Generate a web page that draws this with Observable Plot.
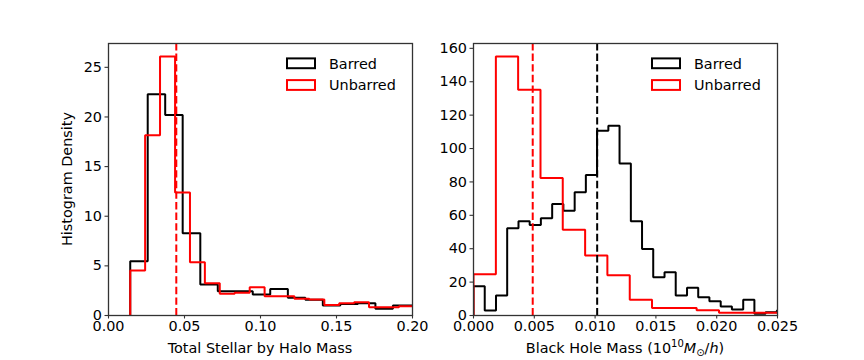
<!DOCTYPE html>
<html>
<head>
<meta charset="utf-8">
<script src="https://cdn.jsdelivr.net/npm/d3@7"></script>
<script src="https://cdn.jsdelivr.net/npm/@observablehq/plot@0.6"></script>
<style>
  html, body { margin: 0; padding: 0; background: #fff; }
  #wrap { display: flex; width: 864px; height: 360px; }
  svg { font-family: "DejaVu Sans", sans-serif; }
</style>
</head>
<body>
<div id="wrap"></div>
<script>
// ---------- Data ----------
// Left panel: Total Stellar by Halo Mass
const leftBarredEdges = [0.0143, 0.0258, 0.0373, 0.0488, 0.0604, 0.0719, 0.0834, 0.0949, 0.1064, 0.1180, 0.1295, 0.1410, 0.1525, 0.1641, 0.1756, 0.1871, 0.1986, 0.2101];
const leftBarredDensity = [5.47, 22.3, 20.2, 8.29, 3.12, 2.45, 2.45, 2.11, 2.68, 1.78, 1.58, 1.0, 1.17, 1.24, 0.67, 1.0, 1.0];
const leftUnbarredEdges = [0.0143, 0.0241, 0.0339, 0.0438, 0.0536, 0.0634, 0.0732, 0.0830, 0.0929, 0.1027, 0.1125, 0.1223, 0.1321, 0.1420, 0.1518, 0.1616, 0.1714, 0.1812, 0.1911, 0.2009];
const leftUnbarredDensity = [4.53, 18.15, 26.1, 12.4, 5.37, 3.26, 2.18, 2.28, 2.85, 1.95, 1.95, 1.68, 1.61, 1.07, 1.24, 1.34, 0.84, 0.84, 0.94];
const leftUnbarredMedian = 0.0446;

// Right panel: Black Hole Mass
const rightBarredEdges = [0, 0.000924, 0.00185, 0.00277, 0.00370, 0.00462, 0.00554, 0.00647, 0.00739, 0.00832, 0.00924, 0.01016, 0.01109, 0.01201, 0.01294, 0.01386, 0.01478, 0.01571, 0.01663, 0.01756, 0.01848, 0.01940, 0.02033, 0.02125, 0.02218, 0.02310, 0.02402, 0.02495, 0.02587];
const rightBarredDensity = [17.5, 3.0, 12.0, 52.2, 56.4, 54.2, 58.2, 66.8, 62.8, 73.8, 84.1, 110.7, 113.7, 91.1, 56.4, 39.9, 22.9, 25.9, 12.0, 16.6, 11.0, 8.6, 5.4, 3.6, 9.4, 1.0, 2.0, 3.0];
const rightUnbarredEdges = [0, 0.00184, 0.00367, 0.00551, 0.00734, 0.00918, 0.01101, 0.01285, 0.01468, 0.01652, 0.01835, 0.02019, 0.02202, 0.02386, 0.02569];
const rightUnbarredDensity = [24.7, 155.1, 135.2, 82.4, 51.4, 35.9, 24.1, 9.4, 4.5, 4.5, 3.2, 1.6, 1.6, 1.6];
const rightUnbarredMedian = 0.00487;
const rightBarredMedian = 0.01017;

const leftXTicks = [0, 0.05, 0.10, 0.15, 0.20];
const leftYTicks = [0, 5, 10, 15, 20, 25];
const rightXTicks = [0, 0.005, 0.010, 0.015, 0.020, 0.025];
const rightYTicks = [0, 20, 40, 60, 80, 100, 120, 140, 160];

const seriesNames = ["Barred", "Unbarred"];
const seriesColors = ["#000000", "#ff0000"];

// ---------- helpers ----------
function stepPoints(edges, vals) {
  const pts = [{x: edges[0], y: 0}];
  vals.forEach((v, i) => pts.push({x: edges[i], y: v}));
  pts.push({x: edges[vals.length], y: 0});
  return pts;
}

const FONT = 14.4;
const spine = "#333333";

function panel({width, marginLeft, marginRight, xDomain, yDomain, xTicks, yTicks, xFmt, series, medians}) {
  const marks = [];
  series.forEach(s => {
    marks.push(Plot.line(stepPoints(s.edges, s.vals), {
      x: "x", y: "y", curve: "step-after", stroke: s.color, strokeWidth: 2,
      strokeLinejoin: "miter", clip: true
    }));
  });
  medians.forEach(m => {
    marks.push(Plot.ruleX([m.value], {stroke: m.color, strokeWidth: 2, strokeDasharray: "7.4,3.2"}));
  });
  marks.push(Plot.axisX({ticks: xTicks, tickFormat: d3.format(xFmt), tickSize: 3.5, tickPadding: 2, label: null, stroke: spine, strokeWidth: 1.1, fontSize: FONT}));
  marks.push(Plot.axisY({ticks: yTicks, tickFormat: d3.format("d"), tickSize: 3.5, tickPadding: 3, label: null, stroke: spine, strokeWidth: 1.1, fontSize: FONT}));
  marks.push(Plot.frame({stroke: spine, strokeWidth: 1.3}));
  return Plot.plot({
    width, height: 360,
    marginLeft, marginRight, marginTop: 43, marginBottom: 45,
    style: {fontSize: FONT + "px", fontFamily: "DejaVu Sans", color: "#000", background: "#fff"},
    x: {domain: xDomain, nice: false},
    y: {domain: yDomain, nice: false},
    marks
  });
}

function addLegend(svg, x0) {
  const g = d3.select(svg).append("g").attr("text-anchor", "start");
  seriesNames.forEach((name, i) => {
    const cy = 63.3 + i * 21.7;
    g.append("rect").attr("x", x0 + 1).attr("y", cy - 4.9).attr("width", 28).attr("height", 9.8)
      .attr("fill", "none").attr("stroke", seriesColors[i]).attr("stroke-width", 2);
    g.append("text").attr("x", x0 + 43).attr("y", cy + 5.2).attr("font-size", FONT)
      .attr("text-anchor", "start")
      .attr("font-family", "DejaVu Sans").attr("fill", "#000").text(name);
  });
}

const wrap = document.getElementById("wrap");

// Left panel
const left = panel({
  width: 432, marginLeft: 108, marginRight: 20,
  xDomain: [0, 0.2], yDomain: [0, 27.4],
  xTicks: leftXTicks, yTicks: leftYTicks, xFmt: ".2f",
  series: [
    {edges: leftBarredEdges, vals: leftBarredDensity, color: seriesColors[0]},
    {edges: leftUnbarredEdges, vals: leftUnbarredDensity, color: seriesColors[1]}
  ],
  medians: [{value: leftUnbarredMedian, color: seriesColors[1]}]
});
wrap.appendChild(left);
addLegend(left, 286);
d3.select(left).append("text").attr("x", 260).attr("y", 353).attr("text-anchor", "middle")
  .attr("font-size", FONT).attr("font-family", "DejaVu Sans").text("Total Stellar by Halo Mass");
d3.select(left).append("text").attr("transform", "translate(72,179) rotate(-90)").attr("text-anchor", "middle")
  .attr("font-size", FONT).attr("font-family", "DejaVu Sans").text("Histogram Density");

// Right panel
const right = panel({
  width: 432, marginLeft: 41, marginRight: 87,
  xDomain: [0, 0.025], yDomain: [0, 162.9],
  xTicks: rightXTicks, yTicks: rightYTicks, xFmt: ".3f",
  series: [
    {edges: rightBarredEdges, vals: rightBarredDensity, color: seriesColors[0]},
    {edges: rightUnbarredEdges, vals: rightUnbarredDensity, color: seriesColors[1]}
  ],
  medians: [
    {value: rightUnbarredMedian, color: seriesColors[1]},
    {value: rightBarredMedian, color: seriesColors[0]}
  ]
});
wrap.appendChild(right);
addLegend(right, 219);
const lab = d3.select(right).append("text").attr("x", 193).attr("y", 353).attr("text-anchor", "middle")
  .attr("font-size", FONT).attr("font-family", "DejaVu Sans");
lab.append("tspan").text("Black Hole Mass (10");
lab.append("tspan").attr("font-size", 10).attr("dy", -6).text("10");
lab.append("tspan").attr("font-style", "italic").attr("dy", 6).text("M");
lab.append("tspan").attr("font-size", 10).attr("dy", 3).text("\u2299");
lab.append("tspan").attr("dy", -3).text("/");
lab.append("tspan").attr("font-style", "italic").text("h");
lab.append("tspan").text(")");
</script>
</body>
</html>
